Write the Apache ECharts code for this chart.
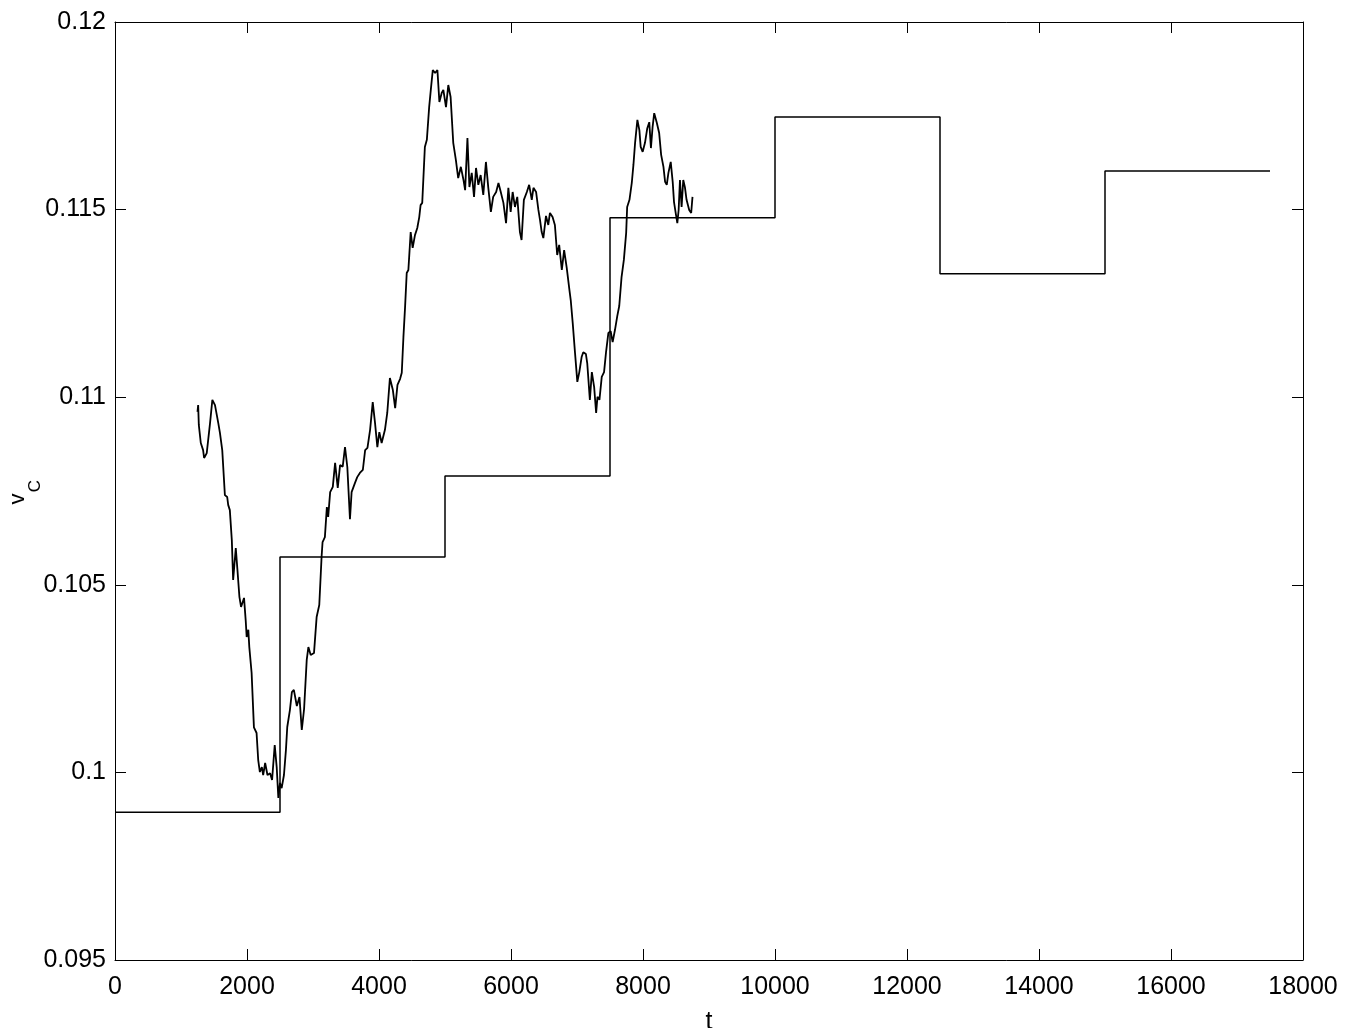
<!DOCTYPE html>
<html>
<head>
<meta charset="utf-8">
<title>v_C over t</title>
<script src="https://cdn.jsdelivr.net/npm/echarts@6/dist/echarts.min.js"></script>
<style>
  html, body { margin: 0; padding: 0; background: #ffffff; }
  #chart { width: 1346px; height: 1028px; }
</style>
</head>
<body>
<div id="chart"></div>
<script>
// Time axis ticks and value axis ticks
const tTicks = [0, 2000, 4000, 6000, 8000, 10000, 12000, 14000, 16000, 18000];
const vTicks = [0.095, 0.1, 0.105, 0.11, 0.115, 0.12];

// Piecewise-constant level, held from each t until the next one
const stepT = [0, 2500, 5000, 7500, 10000, 12500, 15000, 17500];
const stepV = [0.09894, 0.10574, 0.10790, 0.11478, 0.11747, 0.11329, 0.11603, 0.11603];

// Measured trace
const traceT = [
  1250, 1260, 1270, 1300, 1335, 1350, 1390, 1440, 1475, 1515,
  1565, 1590, 1625, 1665, 1700, 1715, 1740, 1770, 1790, 1830,
  1855, 1885, 1910, 1955, 1980, 1995, 2020, 2035, 2070, 2105,
  2145, 2170, 2195, 2225, 2245, 2275, 2310, 2350, 2380, 2420,
  2450, 2475, 2500, 2525, 2560, 2590, 2610, 2650, 2680, 2710,
  2755, 2795, 2830, 2865, 2905, 2930, 2965, 3015, 3055, 3095,
  3130, 3145, 3180, 3210, 3230, 3260, 3300, 3335, 3375, 3410,
  3450, 3485, 3520, 3560, 3585, 3635, 3670, 3710, 3755, 3790,
  3825, 3865, 3905, 3940, 3975, 4005, 4040, 4090, 4125, 4165,
  4210, 4245, 4280, 4320, 4345, 4370, 4395, 4420, 4445, 4480,
  4510, 4545, 4580, 4610, 4630, 4655, 4695, 4725, 4760, 4785,
  4815, 4850, 4885, 4915, 4950, 4975, 5015, 5050, 5085, 5125,
  5165, 5200, 5240, 5280, 5305, 5340, 5370, 5405, 5440, 5470,
  5505, 5540, 5580, 5620, 5655, 5695, 5730, 5775, 5810, 5845,
  5885, 5925, 5960, 5995, 6025, 6060, 6095, 6135, 6160, 6195,
  6240, 6275, 6315, 6340, 6380, 6415, 6440, 6465, 6490, 6530,
  6565, 6590, 6630, 6665, 6700, 6730, 6770, 6805, 6845, 6885,
  6905, 6935, 6970, 7005, 7035, 7070, 7095, 7135, 7155, 7195,
  7225, 7260, 7290, 7310, 7340, 7375, 7410, 7440, 7475, 7510,
  7540, 7575, 7610, 7640, 7675, 7710, 7745, 7760, 7795, 7830,
  7855, 7880, 7915, 7945, 7965, 7995, 8030, 8065, 8095, 8120,
  8145, 8170, 8210, 8245, 8275, 8310, 8335, 8360, 8385, 8420,
  8450, 8470, 8500, 8520, 8540, 8560, 8585, 8610, 8635, 8660,
  8700, 8730, 8750
];
const traceV = [
  0.10961, 0.10979, 0.10926, 0.10878, 0.10859, 0.10838, 0.10851, 0.10931, 0.10993, 0.10979,
  0.10931, 0.10905, 0.10859, 0.10739, 0.10734, 0.10713, 0.10699, 0.10619, 0.10513, 0.10598,
  0.10540, 0.10468, 0.10441, 0.10465, 0.10406, 0.10361, 0.10380, 0.10334, 0.10265, 0.10120,
  0.10105, 0.10033, 0.10001, 0.10014, 0.09993, 0.10025, 0.09993, 0.09998, 0.09980, 0.10073,
  0.10014, 0.09932, 0.09972, 0.09958, 0.09993, 0.10060, 0.10121, 0.10166, 0.10214, 0.10220,
  0.10177, 0.10201, 0.10113, 0.10169, 0.10300, 0.10334, 0.10313, 0.10318, 0.10414, 0.10446,
  0.10574, 0.10614, 0.10627, 0.10707, 0.10681, 0.10747, 0.10761, 0.10825, 0.10758, 0.10819,
  0.10815, 0.10867, 0.10814, 0.10675, 0.10747, 0.10771, 0.10787, 0.10798, 0.10806, 0.10859,
  0.10865, 0.10913, 0.10987, 0.10931, 0.10867, 0.10907, 0.10878, 0.10913, 0.10958, 0.11051,
  0.11019, 0.10971, 0.11033, 0.11049, 0.11065, 0.11160, 0.11240, 0.11331, 0.11339, 0.11440,
  0.11398, 0.11432, 0.11451, 0.11480, 0.11512, 0.11518, 0.11667, 0.11686, 0.11773, 0.11819,
  0.11872, 0.11864, 0.11872, 0.11787, 0.11811, 0.11819, 0.11773, 0.11832, 0.11800, 0.11678,
  0.11632, 0.11584, 0.11614, 0.11579, 0.11552, 0.11691, 0.11560, 0.11598, 0.11534, 0.11611,
  0.11566, 0.11592, 0.11539, 0.11627, 0.11560, 0.11494, 0.11534, 0.11547, 0.11571, 0.11547,
  0.11518, 0.11464, 0.11558, 0.11494, 0.11547, 0.11507, 0.11534, 0.11440, 0.11419, 0.11526,
  0.11547, 0.11566, 0.11526, 0.11558, 0.11547, 0.11499, 0.11472, 0.11440, 0.11424, 0.11483,
  0.11459, 0.11491, 0.11480, 0.11459, 0.11379, 0.11406, 0.11339, 0.11392, 0.11344, 0.11286,
  0.11259, 0.11198, 0.11118, 0.11041, 0.11067, 0.11107, 0.11120, 0.11115, 0.11091, 0.10993,
  0.11067, 0.11027, 0.10958, 0.11001, 0.10993, 0.11054, 0.11067, 0.11120, 0.11171, 0.11176,
  0.11147, 0.11179, 0.11216, 0.11243, 0.11320, 0.11366, 0.11438, 0.11507, 0.11526, 0.11571,
  0.11619, 0.11678, 0.11739, 0.11712, 0.11667, 0.11654, 0.11678, 0.11717, 0.11733, 0.11664,
  0.11720, 0.11757, 0.11731, 0.11704, 0.11646, 0.11614, 0.11574, 0.11566, 0.11598, 0.11627,
  0.11574, 0.11520, 0.11486, 0.11464, 0.11499, 0.11579, 0.11507, 0.11579, 0.11560, 0.11526,
  0.11499, 0.11491, 0.11534
];

const pairs = (xs, ys) => xs.map((x, i) => [x, ys[i]]);

const FONT = '"Liberation Sans", Arial, Helvetica, sans-serif';
const LABEL_SIZE = 25;
const tickLen = 11;
const tStep = tTicks[1] - tTicks[0];
const vStep = 0.005;

// plain numbers, no thousands separators
const fmtT = (t) => String(Math.round(t));
const fmtV = (v) => String(+v.toFixed(3));

const baseX = {
  type: 'value',
  min: tTicks[0],
  max: tTicks[tTicks.length - 1],
  interval: tStep,
  splitLine: { show: false },
  axisLine: { show: true, onZero: false, lineStyle: { color: '#000', width: 1 } },
  axisTick: { show: true, inside: true, length: tickLen, lineStyle: { color: '#000', width: 1 } }
};
const baseY = {
  type: 'value',
  min: vTicks[0],
  max: vTicks[vTicks.length - 1],
  interval: vStep,
  splitLine: { show: false },
  axisLine: { show: true, onZero: false, lineStyle: { color: '#000', width: 1 } },
  axisTick: { show: true, inside: true, length: tickLen, lineStyle: { color: '#000', width: 1 } }
};

const chart = echarts.init(document.getElementById('chart'), null, { renderer: 'canvas' });

chart.setOption({
  backgroundColor: '#ffffff',
  animation: false,
  grid: { left: 115, top: 22, right: 43, bottom: 68, containLabel: false, outerBoundsMode: 'none' },
  // y-axis title: "v" with a smaller, lowered "C" subscript, read bottom to top
  graphic: [
    {
      type: 'text', x: 18, y: 499, rotation: Math.PI / 2, silent: true,
      style: { text: 'v', fontFamily: FONT, fontSize: 22, fill: '#000', align: 'center', verticalAlign: 'middle' }
    },
    {
      type: 'text', x: 35, y: 486, rotation: Math.PI / 2, silent: true,
      style: { text: 'C', fontFamily: FONT, fontSize: 17, fill: '#000', align: 'center', verticalAlign: 'middle' }
    }
  ],
  xAxis: [
    Object.assign({}, baseX, {
      position: 'bottom',
      name: 't',
      nameLocation: 'middle',
      nameGap: 50,
      nameTextStyle: { color: '#000', fontFamily: FONT, fontSize: LABEL_SIZE },
      axisLabel: { show: true, color: '#000', fontFamily: FONT, fontSize: LABEL_SIZE, margin: 15, formatter: fmtT }
    }),
    Object.assign({}, baseX, {
      position: 'top',
      axisLabel: { show: false }
    })
  ],
  yAxis: [
    Object.assign({}, baseY, {
      position: 'left',
      axisLabel: { show: true, color: '#000', fontFamily: FONT, fontSize: LABEL_SIZE, margin: 9, formatter: fmtV }
    }),
    Object.assign({}, baseY, {
      position: 'right',
      axisLabel: { show: false }
    })
  ],
  series: [
    {
      name: 'level',
      type: 'line',
      step: 'end',
      xAxisIndex: 0,
      yAxisIndex: 0,
      data: pairs(stepT, stepV),
      symbol: 'none',
      lineStyle: { color: '#000', width: 1.5 },
      z: 3
    },
    {
      name: 'trace',
      type: 'line',
      xAxisIndex: 0,
      yAxisIndex: 0,
      data: pairs(traceT, traceV),
      symbol: 'none',
      smooth: false,
      lineStyle: { color: '#000', width: 1.8 },
      z: 4
    }
  ]
});
</script>
</body>
</html>
